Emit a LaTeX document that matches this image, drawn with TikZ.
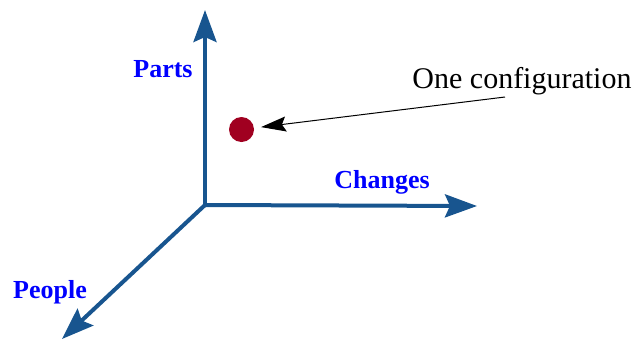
\documentclass[tikz,border=0pt]{standalone}
\usepackage{fontspec}
\setmainfont{Liberation Serif}
\usetikzlibrary{arrows.meta}
\definecolor{axisblue}{HTML}{18558F}
\definecolor{dotred}{HTML}{A00020}
\definecolor{lblblue}{HTML}{0000FF}
\begin{document}
\begin{tikzpicture}[x=1pt,y=-1pt,
  axis/.style={draw=axisblue,line width=4pt,-{Stealth[length=32pt,width=23pt,inset=5pt]}},
  axlabel/.style={text=lblblue,font=\fontsize{26}{30}\selectfont\bfseries,inner sep=0pt,anchor=base},
  pointer/.style={draw=black,line width=1pt,-{Stealth[length=25pt,width=15pt,inset=4pt]},shorten >=7pt}]
\useasboundingbox (0,0) rectangle (634,341);
\coordinate (O) at (205,205);
\coordinate (up) at (205,10);
\coordinate (right) at (477,206);
\coordinate (dl) at (62,339);
\draw[axis] (O) -- (up);
\draw[axis] (O) -- (right);
\draw[axis] (O) -- (dl);
\node[axlabel] (parts) at (163,77) {Parts};
\node[axlabel] (changes) at (382,188) {Changes};
\node[axlabel] (people) at (50,298) {People};
\node[circle,fill=dotred,minimum size=25pt,inner sep=0pt] (dot) at (241.5,129.5) {};
\node[font=\fontsize{30}{34}\selectfont,inner sep=0pt,anchor=base] (conf) at (522,88) {One configuration};
\coordinate (cs) at (505,97);
\draw[pointer] (cs) -- (dot);
\end{tikzpicture}
\end{document}
